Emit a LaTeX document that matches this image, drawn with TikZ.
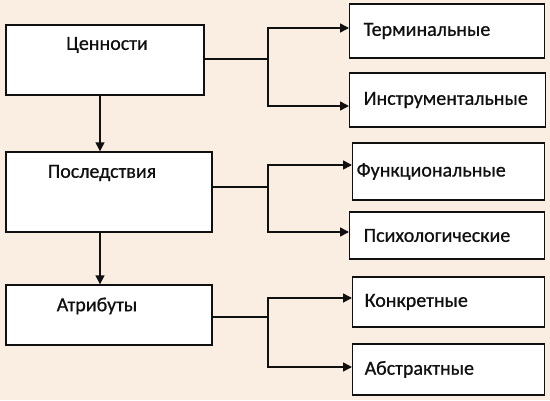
\documentclass[tikz,border=0pt]{standalone}
\usepackage{fontspec}
\setmainfont{Carlito}
\newfontfamily\boxfont{Carlito}[FakeBold=0.7]
\usetikzlibrary{arrows.meta,positioning,calc}
\definecolor{MBack}{HTML}{FAEEE3}
\definecolor{MInk}{HTML}{101010}
\tikzset{
  link/.style={draw=MInk,line width=1.5pt},
  flow/.style={link,-{Triangle[length=9pt,width=9pt]}},
  lbox/.style={draw=MInk,line width=1.4pt,fill=white,inner sep=0pt},
  rbox/.style={draw=MInk,line width=1.4pt,fill=white,anchor=west,align=left,
               inner xsep=14pt,inner ysep=0pt,text width=167pt,text=MInk,
               font=\boxfont\fontsize{20}{23}\selectfont},
  ltext/.style={text=MInk,font=\boxfont\fontsize{20}{23}\selectfont,inner sep=0pt},
}
\begin{document}
\begin{tikzpicture}[x=1pt,y=-1pt]
    \useasboundingbox[fill=MBack] (0,0) rectangle (550,400);
    \coordinate (ax) at (100,0);

    % left column
    \node[lbox,minimum width=198pt,minimum height=70pt] (val) at (105,60) {};
    \node[ltext] (valtxt) at (107,45) {Ценности};
    \node[lbox,minimum width=206pt,minimum height=80pt] (cons) at (109,192) {};
    \node[ltext] (constxt) at (102,173) {Последствия};
    \node[lbox,minimum width=206pt,minimum height=60pt] (attr) at (109,315) {};
    \node[ltext] (attrtxt) at (97,306) {Атрибуты};

    \draw[flow] (val.south -| ax) -- (cons.north -| ax);
    \draw[flow] (cons.south -| ax) -- (attr.north -| ax);

    % right column
    \node[rbox,minimum height=54pt] (term) at (349,31) {Терминальные};
    \node[rbox,minimum height=54pt,text width=168pt] (instr) at (349,100) {Инструментальные};
    \node[rbox,minimum height=57pt,inner xsep=4pt,text width=184pt] (func) at (352,171.5) {Функциональные};
    \node[rbox,minimum height=47pt] (psych) at (349,235.5) {Психологические};
    \node[rbox,minimum height=50pt,inner xsep=12pt,text width=168pt] (conc) at (352,302) {Конкретные};
    \node[rbox,minimum height=51pt,inner xsep=12pt,text width=168pt] (abst) at (352,369.5) {Абстрактные};

    % forks
    \coordinate (fval) at (268,59);
    \coordinate (fcons) at (268,187);
    \coordinate (fattr) at (268,317);

    \draw[link] (val.east |- fval) -- (fval);
    \draw[flow] (fval) |- ([yshift=3pt]term.west);
    \draw[flow] (fval) |- ([yshift=-6pt]instr.west);

    \draw[link] (cons.east |- fcons) -- (fcons);
    \draw[flow] (fcons) |- ([yshift=6.5pt]func.west);
    \draw[flow] (fcons) |- ([yshift=3.5pt]psych.west);

    \draw[link] (attr.east |- fattr) -- (fattr);
    \draw[flow] (fattr) |- ([yshift=4pt]conc.west);
    \draw[flow] (fattr) |- ([yshift=2.5pt]abst.west);
\end{tikzpicture}
\end{document}
